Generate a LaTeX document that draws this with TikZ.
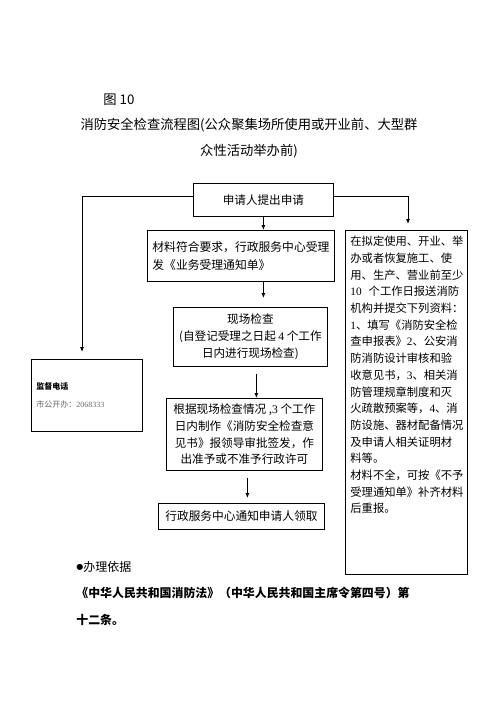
\documentclass[tikz,border=0pt]{standalone}
\usepackage{fontspec}
\setmainfont{Noto Sans CJK SC}
\newfontfamily\snfont{Liberation Serif}
\newfontfamily\dvfont{DejaVu Sans}
\newcommand\sn[1]{{\snfont #1}}
\newcommand\jl[1]{\makebox[113pt][s]{#1}}
\XeTeXlinebreaklocale "zh"
\XeTeXlinebreakskip=0pt plus 3pt
\usetikzlibrary{arrows.meta}
\begin{document}
\begin{tikzpicture}[x=1pt,y=-1pt,line width=0.8pt,
  box/.style={draw, inner sep=0pt, anchor=north west},
  arr/.style={-{Latex[length=5pt,width=4pt]}},
  bt/.style={font=\fontsize{11.6}{16.7}\selectfont}]
\useasboundingbox (0,0) rectangle (496,702);

% title
\node[anchor=base west, font=\fontsize{13.3}{14}\selectfont, inner sep=0pt] (fig) at (103,104) {图 10};
\node[anchor=base, font=\fontsize{13.3}{14}\selectfont, inner sep=0pt] (t1) at (249,129.5) {消防安全检查流程图(公众聚集场所使用或开业前、大型群};
\node[anchor=base, font=\fontsize{13.3}{14}\selectfont, inner sep=0pt] (t2) at (249,155) {众性活动举办前)};

% boxes
\node[box, minimum width=140pt, minimum height=33pt, font=\fontsize{11.6}{14}\selectfont] (top) at (193,183) {申请人提出申请};
\node[box, minimum width=187pt, minimum height=51pt, align=left, font=\fontsize{11.8}{18}\selectfont] (box2) at (147,230) {材料符合要求，行政服务中心受理\\发《业务受理通知单》};
\node[box, minimum width=154pt, minimum height=59pt, align=center, font=\fontsize{11.6}{17}\selectfont] (box3) at (173,307) {现场检查\\(自登记受理之日起 \sn{4} 个工作\\日内进行现场检查)};
\node[box, minimum width=156pt, minimum height=72pt, align=center, font=\fontsize{11.6}{16.7}\selectfont] (box4) at (166,398) {根据现场检查情况 ,\sn{3} 个工作\\日内制作《消防安全检查意\\见书》报领导审批签发，作\\出准予或不准予行政许可};
\node[box, minimum width=166pt, minimum height=26pt, font=\fontsize{11.7}{14}\selectfont] (box5) at (158,503) {行政服务中心通知申请人领取};
\node[box, minimum width=111pt, minimum height=72pt, text width=101pt, align=left, font=\fontsize{8}{18}\selectfont] (lbox) at (31,359) {\textbf{监督电话}\\{\color{black!60}市公开办：\sn{2068333}}};
\node[box, minimum width=122pt, minimum height=344pt] (rbox) at (345,230) {};
\node[anchor=north west, inner sep=0pt, align=left, font=\fontsize{11.3}{16.7}\selectfont] (rtext) at (350,235.8) {\jl{在拟定使用、开业、举}\\\jl{办或者恢复施工、使}\\\jl{用、生产、营业前至少}\\\jl{\sn{10}\hspace{7pt}个工作日报送消防}\\\jl{机构并提交下列资料：}\\\jl{\sn{1}、填写《消防安全检}\\\jl{查申报表》\sn{2}、公安消}\\\jl{防消防设计审核和验}\\\jl{收意见书，\sn{3}、相关消}\\\jl{防管理规章制度和灭}\\\jl{火疏散预案等，\sn{4}、消}\\\jl{防设施、器材配备情况}\\\jl{及申请人相关证明材}\\料等。\\\jl{材料不全，可按《不予}\\\jl{受理通知单》补齐材料}\\后重报。};

% connectors
\draw[arr, shorten >=7pt] ([yshift=3.5pt]top.west) -| ([xshift=51pt]lbox.north west);
\draw[arr, shorten >=6pt] ([yshift=3.5pt]top.east) -| ([xshift=63pt]rbox.north west);
\draw[arr] (top.south) -- (top.south |- box2.north);
\draw[arr, shorten >=9pt] (top.south |- box2.south) -- (top.south |- box3.north);
\draw[arr, shorten <=7pt] ([xshift=6pt]box3.south) -- ([xshift=6pt]box3.south |- box4.north);
\draw[arr, shorten <=7pt, shorten >=5pt] ([xshift=3pt]box4.south) -- ([xshift=3pt]box4.south |- box5.north);

% basis
\node[anchor=base west, inner sep=0pt, font=\fontsize{12}{14}\selectfont] (basis) at (76,571.6) {\raisebox{1.8pt}{\dvfont\fontsize{8}{8}\selectfont ●}办理依据};
\node[anchor=base west, inner sep=0pt, font=\fontsize{11.9}{14}\selectfont\bfseries] (law) at (76,597.6) {《中华人民共和国消防法》（中华人民共和国主席令第四号）第};
\node[anchor=base west, inner sep=0pt, font=\fontsize{11.9}{14}\selectfont\bfseries] (law2) at (76,624.6) {十二条。};
\end{tikzpicture}
\end{document}
